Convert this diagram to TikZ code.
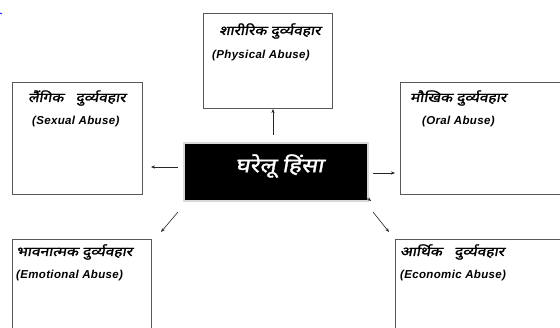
\documentclass[tikz,border=0pt]{standalone}
\usepackage{fontspec}
\setmainfont{Liberation Sans}
\newfontfamily\devb[Script=Devanagari,FakeSlant=0.18,FakeBold=1.6,FakeStretch=1.2]{Noto Sans}
\usetikzlibrary{arrows.meta}
\tikzset{
  box/.style={draw=black!65,line width=0.8pt,rectangle,inner sep=0pt},
  hin/.style={anchor=west,inner sep=0pt,font=\devb\fontsize{13}{15}\selectfont},
  eng/.style={anchor=west,inner sep=0pt,font=\bfseries\itshape\fontsize{11.5}{13}\selectfont\addfontfeatures{LetterSpace=3}},
  arr/.style={draw=black!85,line width=0.6pt,-{Stealth[length=4pt,width=3.2pt]}}
}
\begin{document}
\begin{tikzpicture}[x=1pt,y=-1pt]
\useasboundingbox (0,0) rectangle (560,327);
\clip (0,0) rectangle (560,327);
% boxes
\node[box,minimum width=129pt,minimum height=95pt] (top) at (267.5,60.5) {};
\node[box,minimum width=130pt,minimum height=112pt] (left) at (77,138) {};
\node[box,minimum width=180pt,minimum height=112pt] (right) at (490,138) {};
\node[box,minimum width=139pt,minimum height=100pt] (bl) at (81.5,289) {};
\node[box,minimum width=185pt,minimum height=100pt] (br) at (487.5,289) {};
\node[rectangle,fill=black,draw=black!15,line width=1.5pt,minimum width=184pt,minimum height=58pt,inner sep=0pt] (center) at (276,172) {};
\node[text=white,inner sep=0pt,font=\devb\fontsize{20}{22}\selectfont] (ctext) at (279.5,166) {घरेलू हिंसा};
% texts
\node[hin] (t1) at (219,31) {शारीरिक दुर्व्यवहार};
\node[eng] (e1) at (212,56) {(Physical Abuse)};
\node[hin] (t2) at (28,98) {लैंगिक \ \ दुर्व्यवहार};
\node[eng] (e2) at (32,122) {(Sexual Abuse)};
\node[hin] (t3) at (410,98) {मौखिक दुर्व्यवहार};
\node[eng] (e3) at (422,122) {(Oral Abuse)};
\node[hin] (t4) at (16,252) {भावनात्मक दुर्व्यवहार};
\node[eng] (e4) at (16,276) {(Emotional Abuse)};
\node[hin] (t5) at (400,252) {आर्थिक \ \ दुर्व्यवहार};
\node[eng] (e5) at (400,276) {(Economic Abuse)};
% connector ends
\coordinate (u0) at (273,135); \coordinate (u1) at (273,109);
\coordinate (l0) at (178,167); \coordinate (l1) at (151,167);
\coordinate (r0) at (373,173); \coordinate (r1) at (395,173);
\coordinate (a0) at (178,212); \coordinate (a1) at (161,232);
\coordinate (b0) at (373,212); \coordinate (b1) at (389,232);
\draw[arr] (u0) -- (u1);
\draw[arr] (l0) -- (l1);
\draw[arr] (r0) -- (r1);
\draw[arr] (a0) -- (a1);
\draw[arr] (b0) -- (b1);
% small stray arrowhead at the corner of the centre box
\coordinate (s0) at (366,197); \coordinate (s1) at (371,201);
\draw[arr,line width=0.3pt] (s0) -- (s1);
% blue mark at the top left
\coordinate (m0) at (0,13); \coordinate (m1) at (2,14);
\draw[blue,line width=0.8pt] (m0) -- (m1);
\end{tikzpicture}
\end{document}
